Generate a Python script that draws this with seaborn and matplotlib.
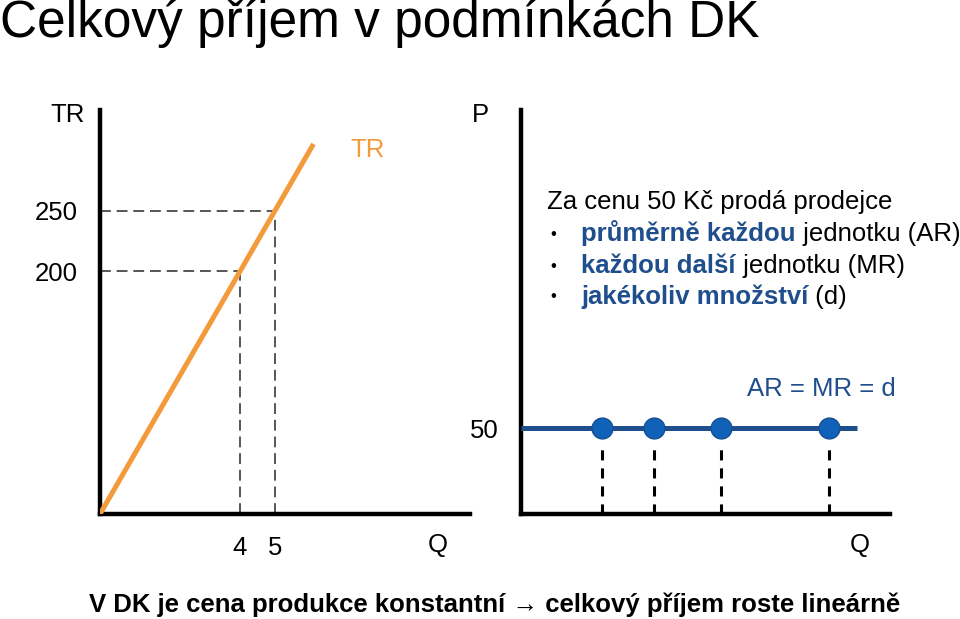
import matplotlib
matplotlib.use("Agg")
import matplotlib.pyplot as plt
import seaborn as sns
import pandas as pd

# ---- data ----
tr_q = [0, 4, 5, 6.1]          # quantity along TR line
tr_vals = [0, 200, 250, 305]   # total revenue
marked_q = [4, 5]
marked_tr = [200, 250]
price = 50
line_q = [0, 9.6]
dot_q = [2.3, 3.8, 5.7, 8.8]
left_ticks = [200, 250]
right_ticks = [50]

sns.set_style("white")
plt.rcParams["font.family"] = ["Liberation Sans", "DejaVu Sans"]
plt.rcParams["text.color"] = "black"
plt.rcParams["xtick.color"] = "black"
plt.rcParams["ytick.color"] = "black"

ORANGE = "#F39A3B"
NAVY = "#1F4E8C"
DOT = "#0F62B8"
FS = 18.5

fig = plt.figure(figsize=(9.6, 6.19), dpi=100)

def fy(py):
    return 1 - py / 619

# Left panel: TR
axL = fig.add_axes([100/960, 105/619, 370/960, 404/619])
df_tr = pd.DataFrame({"Q": tr_q, "TR": tr_vals})
sns.lineplot(data=df_tr, x="Q", y="TR", ax=axL, color=ORANGE, lw=3.6,
             solid_capstyle="butt", zorder=3)
for q, t in zip(marked_q, marked_tr):
    axL.plot([0, q], [t, t], ls=(0, (6.5, 3.5)), color="#3a3a3a", lw=1.2, zorder=2)
    axL.plot([q, q], [0, t], ls=(0, (6.5, 3.5)), color="#3a3a3a", lw=1.2, zorder=2)
axL.set_xlim(0, 370/35)
axL.set_ylim(0, 333)
axL.set_xticks(marked_q)
axL.set_xticklabels([str(v) for v in marked_q])
axL.set_yticks(left_ticks)
axL.set_yticklabels([str(v) for v in left_ticks])
axL.set_xlabel("")
axL.set_ylabel("")

# Right panel: AR = MR = d
axR = fig.add_axes([521/960, 105/619, 369/960, 404/619])
df_p = pd.DataFrame({"Q": line_q, "P": [price] * len(line_q)})
sns.lineplot(data=df_p, x="Q", y="P", ax=axR, color=NAVY, lw=3.6,
             solid_capstyle="butt", zorder=3)
for q in dot_q:
    axR.plot([q, q], [0, 41], ls=(0, (3.3, 2.6)), color="black", lw=2.2, zorder=2)
df_dots = pd.DataFrame({"Q": dot_q, "P": [price] * len(dot_q)})
sns.scatterplot(data=df_dots, x="Q", y="P", ax=axR, s=225, color=DOT,
                edgecolor="#1a4f8f", linewidth=1, zorder=4, clip_on=False)
axR.set_xlim(0, 369/35)
axR.set_ylim(0, 235)
axR.set_xticks([])
axR.set_yticks(right_ticks)
axR.set_yticklabels([str(v) for v in right_ticks])
axR.set_xlabel("")
axR.set_ylabel("")

for ax in (axL, axR):
    sns.despine(ax=ax)
    for s in ("left", "bottom"):
        ax.spines[s].set_linewidth(3.2)
        ax.spines[s].set_color("black")
    ax.tick_params(axis="both", length=0, labelsize=FS, pad=16, colors="black")
    ax.patch.set_alpha(0)

# axis titles
fig.text(68/960, fy(115), "TR", fontsize=FS, ha="center", va="center")
fig.text(368/960, fy(150), "TR", fontsize=FS, ha="center", va="center", color=ORANGE)
fig.text(438/960, fy(545), "Q", fontsize=FS, ha="center", va="center")
fig.text(480/960, fy(115), "P", fontsize=FS, ha="center", va="center")
fig.text(860/960, fy(545), "Q", fontsize=FS, ha="center", va="center")
fig.text(821/960, fy(389), "AR = MR = d", fontsize=FS, ha="center", va="center", color=NAVY)

# explanatory text block
fig.text(547/960, fy(209), "Za cenu 50 Kč prodá prodejce", fontsize=FS, ha="left", va="baseline")
bullets = [("průměrně každou", " jednotku (AR)"),
           ("každou další", " jednotku (MR)"),
           ("jakékoliv množství", " (d)")]
ys = [241, 273, 304]
fig.canvas.draw()
for (b, r), y in zip(bullets, ys):
    fig.text(553/960, fy(y - 7), "•", fontsize=12, ha="center", va="center")
    t = fig.text(581/960, fy(y), b, fontsize=FS, ha="left", va="baseline",
                 color=NAVY, fontweight="bold")
    bb = t.get_window_extent(renderer=fig.canvas.get_renderer())
    fig.text(bb.x1 / fig.bbox.width, fy(y), r, fontsize=FS, ha="left", va="baseline")

# title and footer
fig.text(0.0, fy(37), "Celkový příjem v podmínkách DK", fontsize=37, ha="left", va="baseline")
fig.text(495/960, fy(612), "V DK je cena produkce konstantní → celkový příjem roste lineárně",
         fontsize=FS, fontweight="bold", ha="center", va="baseline")

fig.savefig("out.png", dpi=100, facecolor="white")
